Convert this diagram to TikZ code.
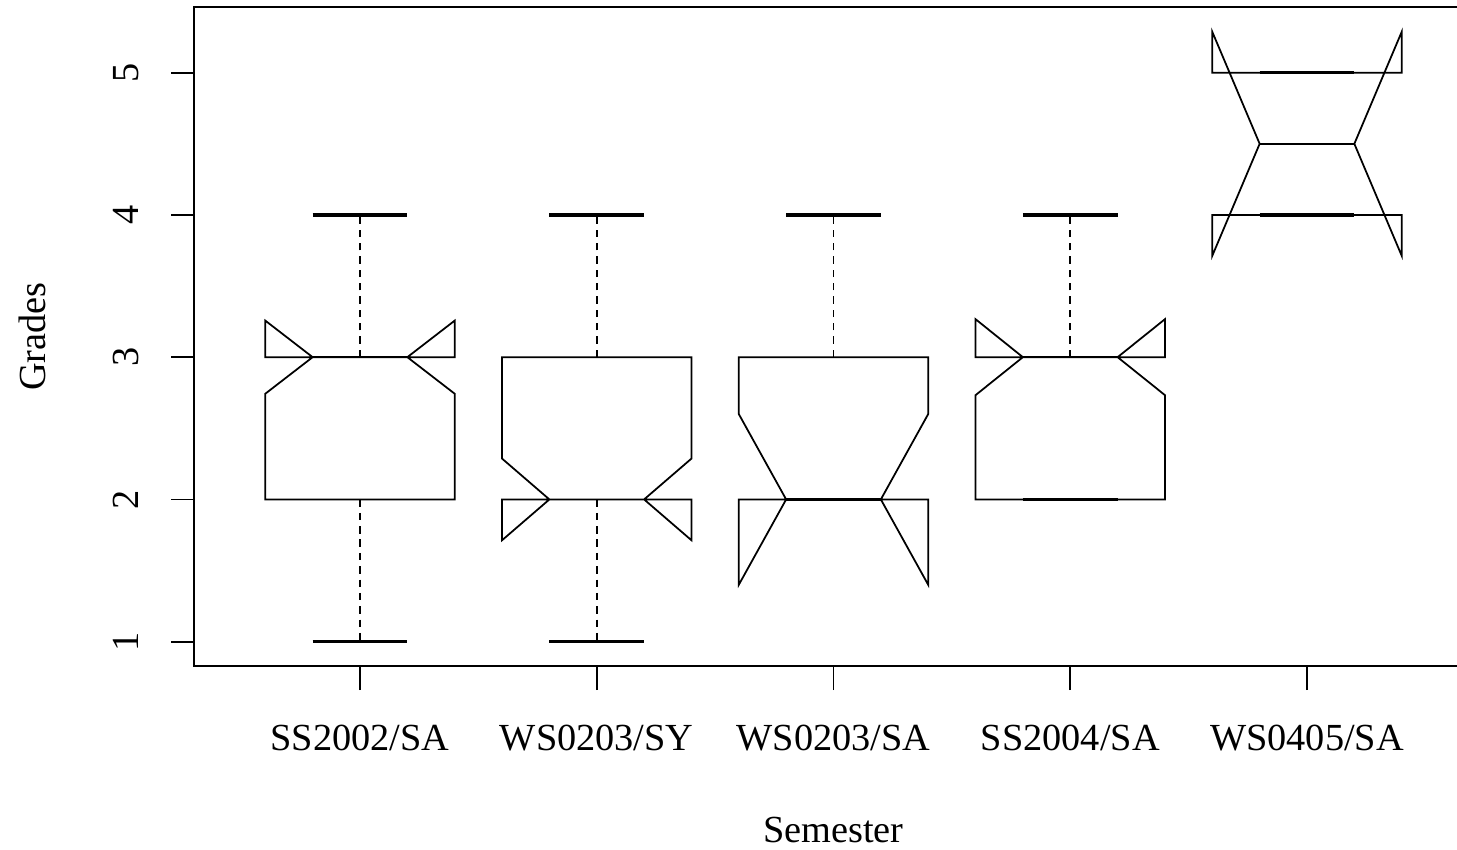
\documentclass[tikz,border=0pt]{standalone}
\usepackage{fontspec}
\setmainfont{Liberation Serif}
\tikzset{plotline/.style={line width=0.5pt,line join=miter}}
\tikzset{whiskerline/.style={line width=0.5pt,dash pattern=on 2.1pt off 1.7pt}}
\tikzset{stapleline/.style={line width=1pt}}
\tikzset{plotlabel/.style={inner sep=0pt,font=\fontsize{10.9}{13}\selectfont}}

% group, low whisker, low hinge, median, up hinge, up whisker, notch
\newcommand{\notchbox}[7]{%
  \draw[whiskerline] (#1,#5) -- (#1,#6);
  \draw[whiskerline] (#1,#3) -- (#1,#2);
  \draw[stapleline] ({#1-0.2},#6) -- ({#1+0.2},#6);
  \draw[stapleline] ({#1-0.2},#2) -- ({#1+0.2},#2);
  \draw[plotline] ({#1-0.4},#3) -- ({#1-0.4},{#4-#7}) -- ({#1-0.2},#4)
    -- ({#1-0.4},{#4+#7}) -- ({#1-0.4},#5) -- ({#1+0.4},#5)
    -- ({#1+0.4},{#4+#7}) -- ({#1+0.2},#4) -- ({#1+0.4},{#4-#7})
    -- ({#1+0.4},#3) -- cycle;
  \draw[plotline] ({#1-0.2},#4) -- ({#1+0.2},#4);
}

\begin{document}
\begin{tikzpicture}
    \useasboundingbox (0,0) rectangle (14.57,8.5);
    \clip (0,0) rectangle (14.57,8.5);
    \begin{scope}[shift={(1.2325cm,0.6605cm)},x=2.3675cm,y=1.4225cm]

        \notchbox{1}{1}{2}{3}{3}{4}{0.257}
        \notchbox{2}{1}{2}{2}{3}{4}{0.287}
        \notchbox{3}{2}{2}{2}{3}{4}{0.6}
        \notchbox{4}{2}{2}{3}{3}{4}{0.267}
        \notchbox{5}{4}{4}{4.5}{5}{5}{0.787}

        % frame and ticks
        \draw[plotline] (0.3,0.8284) rectangle (5.7,5.4616);
        \foreach \v in {1,...,5} {
            \draw[plotline] (0.2017,\v) -- (0.3,\v);
            \node[plotlabel,rotate=90,anchor=base] (ylab\v) at (0.0623,\v) {\v};
        }
        \foreach \g in {1,...,5}
            \draw[plotline] (\g,0.6597) -- (\g,0.8284);

        \node[plotlabel,anchor=base] (glab1) at (1,0.2337) {SS2002/SA};
        \node[plotlabel,anchor=base] (glab2) at (2,0.2337) {WS0203/SY};
        \node[plotlabel,anchor=base] (glab3) at (3,0.2337) {WS0203/SA};
        \node[plotlabel,anchor=base] (glab4) at (4,0.2337) {SS2004/SA};
        \node[plotlabel,anchor=base] (glab5) at (5,0.2337) {WS0405/SA};

        \node[plotlabel,anchor=base] (xtitle) at (3,-0.415) {Semester};
        \node[plotlabel,rotate=90,anchor=base] (ytitle) at (-0.3305,3.145) {Grades};

    \end{scope}
\end{tikzpicture}
\end{document}
